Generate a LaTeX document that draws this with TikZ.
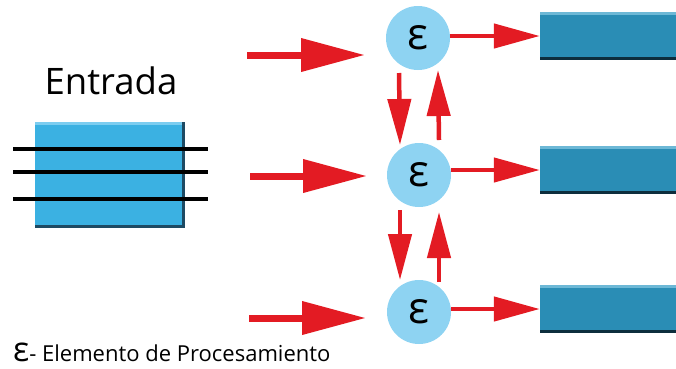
\documentclass[tikz,border=0pt]{standalone}
\usepackage{fontspec}
\setmainfont{Open Sans}
\usetikzlibrary{arrows.meta,calc}

\definecolor{arrowred}{HTML}{E31B23}
\definecolor{inbox}{HTML}{3BB1E2}
\definecolor{inboxlight}{HTML}{7CCDF0}
\definecolor{inboxdark}{HTML}{1E4A63}
\definecolor{pecircle}{HTML}{8ED3F2}
\definecolor{outbox}{HTML}{2A8DB5}
\definecolor{outboxlight}{HTML}{6DB8D6}
\definecolor{outboxdark}{HTML}{0D2E3D}

\tikzset{
  inputbox/.style={rectangle, fill=inbox, inner sep=0pt,
    minimum width=150pt, minimum height=106pt,
    path picture={
      \fill[inboxlight] (path picture bounding box.north west)
        rectangle ($(path picture bounding box.north east)+(0,3)$);
      \fill[inboxdark] ($(path picture bounding box.north east)+(-3,0)$)
        rectangle (path picture bounding box.south east);
      \fill[inboxdark] ($(path picture bounding box.south west)+(0,-3)$)
        rectangle (path picture bounding box.south east);
    }},
  outputbox/.style={rectangle, fill=outbox, inner sep=0pt,
    minimum width=136pt, minimum height=48pt,
    path picture={
      \fill[outboxlight] (path picture bounding box.north west)
        rectangle ($(path picture bounding box.north east)+(0,3)$);
      \fill[outboxdark] ($(path picture bounding box.south west)+(0,-3)$)
        rectangle (path picture bounding box.south east);
    }},
  pe/.style={circle, fill=pecircle, minimum size=64pt, inner sep=0pt,
    font=\fontsize{44}{44}\selectfont},
  wire/.style={line width=4pt, black},
  inlink/.style={draw=arrowred, line width=7pt,
    -{Triangle[length=64pt,width=32pt]}},
  vlink/.style={draw=arrowred, line width=4.5pt,
    -{Triangle[length=46pt,width=23pt]}},
  outlink/.style={draw=arrowred, line width=4.5pt,
    -{Triangle[length=46pt,width=24pt]}},
}

\begin{document}
\begin{tikzpicture}[x=1pt,y=-1pt]
\useasboundingbox (0,0) rectangle (676,368);

% input block with its three feed lines
\node[font=\fontsize{36.5}{36.5}\selectfont] (title) at (111,81) {Entrada};
\node[inputbox] (in) at (110,175) {};
\draw[wire] (13,149) -- (208,149);
\draw[wire] (13,172) -- (208,172);
\draw[wire] (13,199) -- (208,199);

% processing elements
\node[pe] (c1) at (418,38) {ε};
\node[pe] (c2) at (419,175) {ε};
\node[pe] (c3) at (419,312) {ε};

% output blocks
\node[outputbox] (o1) at (608,36) {};
\node[outputbox] (o2) at (608,170) {};
\node[outputbox] (o3) at (608,309) {};

% incoming arrows
\coordinate (a1s) at (247,55);  \coordinate (a1e) at (365,55);
\coordinate (a2s) at (250,176); \coordinate (a2e) at (367,176);
\coordinate (a3s) at (249,318); \coordinate (a3e) at (366,318);
\draw[inlink] (a1s) -- (a1e);
\draw[inlink] (a2s) -- (a2e);
\draw[inlink] (a3s) -- (a3e);

% links between neighbouring elements
\draw[vlink] ($(c1.center)+(-19,35)$) -- ($(c2.center)+(-19,-30)$);
\draw[vlink] ($(c2.center)+(20,-35)$) -- ($(c1.center)+(20,32)$);
\draw[vlink] ($(c2.center)+(-19,35)$) -- ($(c3.center)+(-19,-32)$);
\draw[vlink] ($(c3.center)+(20,-30)$) -- ($(c2.center)+(20,37)$);

% outgoing arrows
\draw[outlink] (c1.east |- o1.west) -- (o1.west);
\draw[outlink] (c2.east |- o2.west) -- (o2.west);
\draw[outlink] (c3.east |- o3.west) -- (o3.west);

% legend
\node[anchor=base west, inner sep=0pt, font=\fontsize{22}{22}\selectfont]
  (legend) at (13,361) {{\fontsize{34}{34}\selectfont ε}- Elemento de Procesamiento};
\end{tikzpicture}
\end{document}
